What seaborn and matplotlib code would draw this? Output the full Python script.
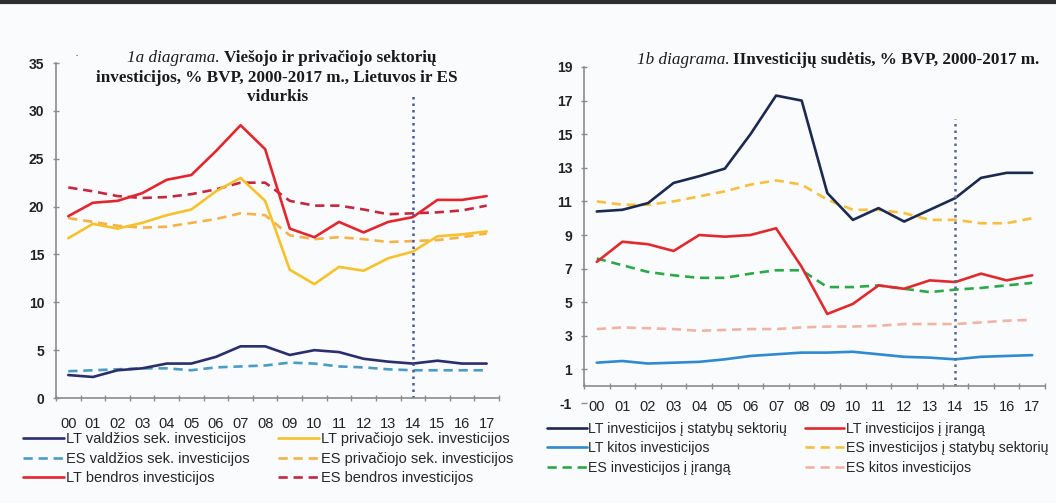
import numpy as np
import pandas as pd
import matplotlib
matplotlib.use("Agg")
import matplotlib.pyplot as plt
from matplotlib.lines import Line2D
import seaborn as sns

# ---------------------------
# data
# ---------------------------
years = ["00", "01", "02", "03", "04", "05", "06", "07", "08",
         "09", "10", "11", "12", "13", "14", "15", "16", "17"]

# 1a diagrama
lt_valdzios = [2.4, 2.2, 2.9, 3.1, 3.6, 3.6, 4.3, 5.4, 5.4, 4.5, 5.0, 4.8, 4.1, 3.8, 3.6, 3.9, 3.6, 3.6]
es_valdzios = [2.8, 2.9, 3.0, 3.1, 3.1, 2.9, 3.2, 3.3, 3.4, 3.7, 3.6, 3.3, 3.2, 3.0, 2.9, 2.9, 2.9, 2.9]
lt_privataus = [16.7, 18.2, 17.7, 18.3, 19.1, 19.7, 21.6, 23.0, 20.6, 13.4, 11.9, 13.7, 13.3, 14.6, 15.3, 16.9, 17.1, 17.4]
es_privataus = [18.8, 18.4, 18.0, 17.8, 17.9, 18.3, 18.7, 19.3, 19.1, 17.0, 16.6, 16.8, 16.6, 16.3, 16.4, 16.5, 16.8, 17.2]
lt_bendros = [19.0, 20.4, 20.6, 21.4, 22.8, 23.3, 25.8, 28.5, 26.0, 17.7, 16.8, 18.4, 17.3, 18.4, 18.9, 20.7, 20.7, 21.1]
es_bendros = [22.0, 21.6, 21.1, 20.9, 21.0, 21.3, 21.8, 22.5, 22.5, 20.6, 20.1, 20.1, 19.7, 19.2, 19.3, 19.4, 19.6, 20.1]

# 1b diagrama
lt_statybu = [10.4, 10.5, 10.9, 12.1, 12.5, 12.95, 15.0, 17.3, 17.0, 11.5, 9.9, 10.6, 9.8, 10.5, 11.2, 12.4, 12.7, 12.7]
lt_iranga = [7.4, 8.6, 8.45, 8.05, 9.0, 8.9, 9.0, 9.4, 7.1, 4.3, 4.9, 6.0, 5.8, 6.3, 6.2, 6.7, 6.3, 6.6]
lt_kitos = [1.4, 1.5, 1.35, 1.4, 1.45, 1.6, 1.8, 1.9, 2.0, 2.0, 2.05, 1.9, 1.75, 1.7, 1.6, 1.75, 1.8, 1.85]
es_statybu = [11.0, 10.8, 10.8, 11.0, 11.3, 11.6, 12.0, 12.25, 12.0, 11.1, 10.5, 10.5, 10.3, 9.9, 9.9, 9.7, 9.7, 10.0]
es_iranga = [7.6, 7.2, 6.8, 6.6, 6.45, 6.45, 6.7, 6.9, 6.9, 5.9, 5.9, 6.0, 5.8, 5.6, 5.75, 5.85, 6.0, 6.15]
es_kitos = [3.4, 3.5, 3.45, 3.4, 3.3, 3.35, 3.4, 3.4, 3.5, 3.55, 3.55, 3.6, 3.7, 3.7, 3.7, 3.8, 3.9, 3.95]

left_ticks = [0, 5, 10, 15, 20, 25, 30, 35]
right_ticks = [-1, 1, 3, 5, 7, 9, 11, 13, 15, 17, 19]

# ---------------------------
# style
# ---------------------------
sns.set_theme(style="white")
plt.rcParams['font.family'] = ['Liberation Sans', 'DejaVu Sans']
plt.rcParams['axes.unicode_minus'] = False

bg = '#f9fbfd'
solid = dict(lw=1.9, linestyle='-')
dashed = dict(lw=1.9, linestyle=(0, (3.5, 2.2)))

fig = plt.figure(figsize=(10.56, 5.03), dpi=100, facecolor=bg)
ax1 = fig.add_axes([0.0530, 0.2087, 0.4195, 0.666])
ax2 = fig.add_axes([0.553, 0.1988, 0.4366, 0.668])

x = np.arange(len(years))

left_series = [
    (lt_valdzios, 'LT valdžios sek. investicijos', '#2a2f6b', solid),
    (es_valdzios, 'ES valdžios sek. investicijos', '#4a9cc4', dashed),
    (lt_bendros, 'LT bendros investicijos', '#e3262e', solid),
    (lt_privataus, 'LT privačiojo sek. investicijos', '#f6c22c', solid),
    (es_privataus, 'ES privačiojo sek. investicijos', '#f3b24a', dashed),
    (es_bendros, 'ES bendros investicijos', '#c42840', dashed),
]
right_series = [
    (lt_statybu, 'LT investicijos į statybų sektorių', '#1d2a4f', solid),
    (lt_kitos, 'LT kitos investicijos', '#2f8ad0', solid),
    (es_iranga, 'ES investicijos į įrangą', '#2ca84a', dashed),
    (lt_iranga, 'LT investicijos į įrangą', '#e12a2e', solid),
    (es_statybu, 'ES investicijos į statybų sektorių', '#f6c03e', dashed),
    (es_kitos, 'ES kitos investicijos', '#f0b4a4', dashed),
]

# draw order: ES lines under LT lines
for ax, series in [(ax1, left_series), (ax2, right_series)]:
    order = [s for s in series if s[1].startswith('ES')] + [s for s in series if s[1].startswith('LT')]
    for vals, lab, col, st in order:
        df = pd.DataFrame({'x': x, 'y': vals})
        sns.lineplot(data=df, x='x', y='y', ax=ax, color=col, label=lab, legend=False, **st)

for ax in (ax1, ax2):
    ax.set_facecolor(bg)
    ax.set_xlim(-0.5, len(years) - 0.5)
    ax.set_xticks(x)
    ax.set_xticklabels(years)
    ax.set_xticks(np.arange(-0.5, len(years)), minor=True)
    ax.tick_params(axis='x', which='major', length=0, labelsize=10.5, colors='#222222')
    ax.tick_params(axis='x', which='minor', length=5, width=1, direction='inout', color='#8c8c8c', bottom=True)
    ax.tick_params(axis='y', length=5, width=1, direction='inout', color='#8c8c8c',
                   labelsize=10, labelcolor='#222222', left=True, pad=6)
    for s in ['top', 'right']:
        ax.spines[s].set_visible(False)
    for s in ['left', 'bottom']:
        ax.spines[s].set_color('#8c8c8c')
        ax.spines[s].set_linewidth(1.2)
    ax.set_xlabel('')
    ax.set_ylabel('')
    for lbl in ax.get_yticklabels():
        lbl.set_fontweight('bold')

ax1.set_ylim(0, 35)
ax1.set_yticks(left_ticks)
ax1.tick_params(axis='x', which='major', pad=14)
ax1.vlines(14, 0, 31.6, colors='#4b5a9c', linestyles=(0, (1, 1.6)), lw=1.8)

ax2.set_ylim(-1, 19)
ax2.set_yticks(right_ticks)
ax2.spines['bottom'].set_position(('data', 0))
ax2.spines['left'].set_bounds(0, 19)
ax2.tick_params(axis='x', which='major', pad=10)
ax2.vlines(14, 0, 15.9, colors='#5a6890', linestyles=(0, (1, 1.6)), lw=1.8)

# ---------------------------
# titles
# ---------------------------
serif = ['Liberation Serif', 'DejaVu Serif']
tsize = 12.3
fig.text(0.2083, 0.8847, '1a diagrama.', ha='right', va='center', style='italic',
         family=serif, fontsize=tsize, color='#1a1a1a')
fig.text(0.2120, 0.8847, 'Viešojo ir privačiojo sektorių', ha='left', va='center',
         weight='bold', family=serif, fontsize=tsize, color='#1a1a1a')
fig.text(0.2623, 0.8449, 'investicijos, % BVP, 2000-2017 m., Lietuvos ir ES', ha='center', va='center',
         weight='bold', family=serif, fontsize=tsize, color='#1a1a1a')
fig.text(0.2633, 0.8072, 'vidurkis', ha='center', va='center',
         weight='bold', family=serif, fontsize=tsize, color='#1a1a1a')
fig.text(0.0729, 0.888, '·', ha='center', va='center', fontsize=9, color='#333333')

fig.text(0.6905, 0.8807, '1b diagrama.', ha='right', va='center', style='italic',
         family=serif, fontsize=tsize, color='#1a1a1a')
fig.text(0.6940, 0.8807, 'IInvesticijų sudėtis, % BVP, 2000-2017 m.', ha='left', va='center',
         weight='bold', family=serif, fontsize=tsize, color='#1a1a1a')

# top rule
fig.add_artist(Line2D([0, 1], [0.996, 0.996], transform=fig.transFigure, color='#2e2e2e', lw=3))

# ---------------------------
# legends (one per column)
# ---------------------------
def make_handles(series):
    hs = []
    for vals, lab, col, st in series:
        hs.append(Line2D([], [], color=col, label=lab, **st))
    return hs

leg_kw = dict(frameon=False, handlelength=2.8, handletextpad=0.12,
              labelspacing=0.38, borderpad=0, borderaxespad=0, loc='upper left',
              bbox_transform=fig.transFigure)

lh = make_handles(left_series)
rh = make_handles(right_series)
fig.legend(handles=lh[:3], bbox_to_anchor=(0.0218, 0.141), fontsize=10.5, **leg_kw)
fig.legend(handles=lh[3:], bbox_to_anchor=(0.2633, 0.141), fontsize=10.5, **leg_kw)
fig.legend(handles=rh[:3], bbox_to_anchor=(0.518, 0.161), fontsize=10.2, **leg_kw)
fig.legend(handles=rh[3:], bbox_to_anchor=(0.762, 0.161), fontsize=10.2, **leg_kw)

plt.savefig('out.png', dpi=100, facecolor=bg)
